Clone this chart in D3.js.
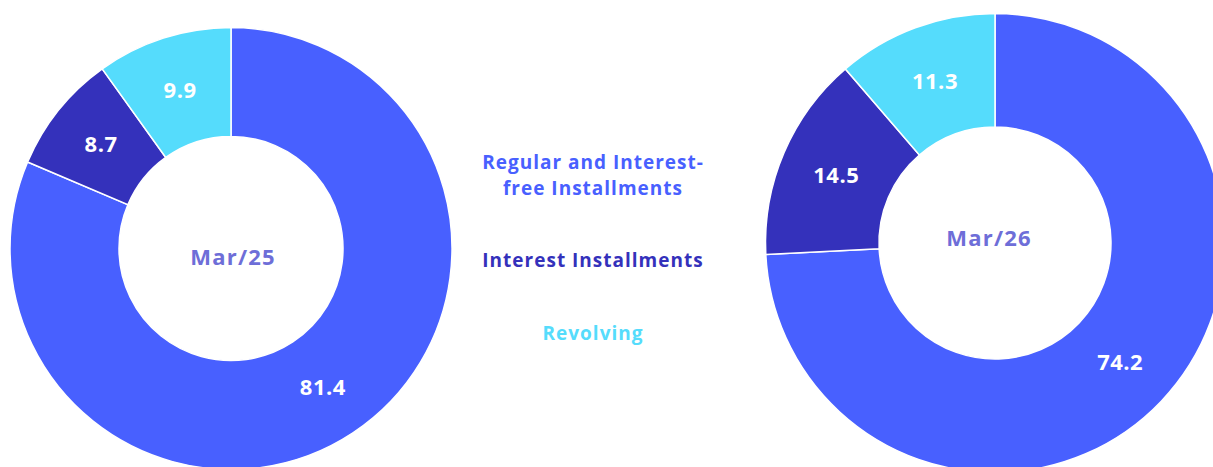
<!DOCTYPE html>
<html>
<head>
<meta charset="utf-8">
<script src="https://cdn.jsdelivr.net/npm/d3@7"></script>
<style>
  html, body { margin: 0; padding: 0; background: #fff; }
  svg { display: block; }
  text { font-family: "Open Sans", "Lato", sans-serif; font-weight: 700; }
</style>
</head>
<body>
<svg id="chart" width="1213" height="467"></svg>
<script>
// ---- data ----
const categories = ["Regular and Interest-free Installments", "Interest Installments", "Revolving"];
const periods = ["Mar/25", "Mar/26"];
const valuesMar25 = [81.4, 8.7, 9.9];
const valuesMar26 = [74.2, 14.5, 11.3];
const legendLines = [["Regular and Interest-", "free Installments"], ["Interest Installments"], ["Revolving"]];
const colors = ["#4860ff", "#3431bb", "#55dcfc"];

const svg = d3.select("#chart");
const color = d3.scaleOrdinal().domain(categories).range(colors);

const donuts = [
  { period: periods[0], values: valuesMar25, cx: 231, cy: 248.5, outer: 221, inner: 112, labelDx: 2, labelDy: 16.5 },
  { period: periods[1], values: valuesMar26, cx: 995, cy: 243, outer: 229.5, inner: 116, labelDx: -6, labelDy: 3 }
];

const pie = d3.pie().sort(null).value(d => d.value);

donuts.forEach(dn => {
  const data = categories.map((c, i) => ({ cat: c, value: dn.values[i] }));
  const arcs = pie(data);
  const arc = d3.arc().innerRadius(dn.inner).outerRadius(dn.outer);
  const g = svg.append("g").attr("transform", `translate(${dn.cx},${dn.cy})`);
  g.selectAll("path").data(arcs).enter().append("path")
    .attr("d", arc)
    .attr("fill", d => color(d.data.cat))
    .attr("stroke", "#ffffff")
    .attr("stroke-width", 1.5);
  g.selectAll("text.val").data(arcs).enter().append("text")
    .attr("class", "val")
    .attr("transform", d => `translate(${arc.centroid(d)})`)
    .attr("text-anchor", "middle")
    .attr("dy", "0.36em")
    .attr("fill", "#ffffff")
    .style("font-size", "22px")
    .style("letter-spacing", "0.5px")
    .text(d => d.data.value.toFixed(1));
  g.append("text")
    .attr("text-anchor", "middle")
    .attr("x", dn.labelDx)
    .attr("y", dn.labelDy)
    .attr("fill", "#6e6ed8")
    .style("font-size", "22px")
    .style("letter-spacing", "1.2px")
    .text(dn.period);
});

// ---- legend ----
const legendX = 593;
const legendBase = [169, 267, 340];
const lg = svg.append("g");
categories.forEach((c, i) => {
  legendLines[i].forEach((ln, j) => {
    lg.append("text")
      .attr("text-anchor", "middle")
      .attr("x", legendX)
      .attr("y", legendBase[i] + j * 26)
      .attr("fill", color(c))
      .style("font-size", "19px")
      .style("letter-spacing", "1px")
      .text(ln);
  });
});
</script>
</body>
</html>
